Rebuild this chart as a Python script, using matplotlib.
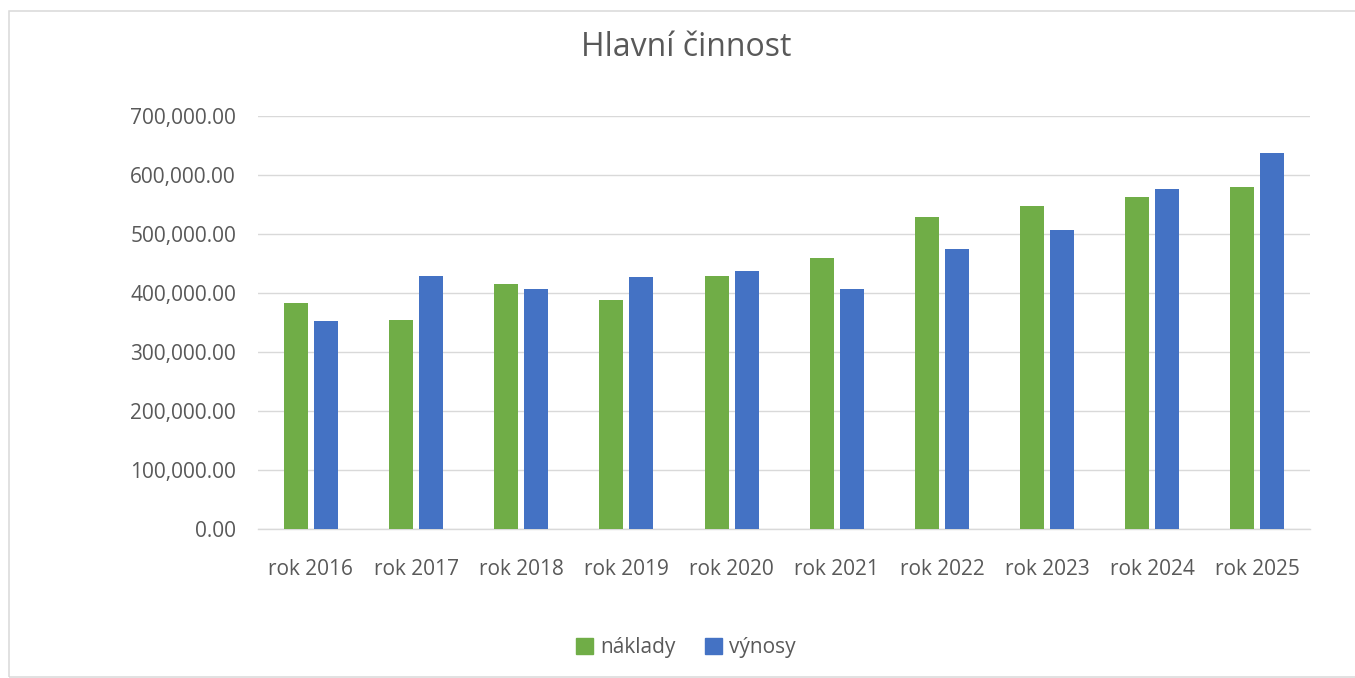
import matplotlib
matplotlib.use("Agg")
import matplotlib.pyplot as plt
import numpy as np
from matplotlib.patches import Rectangle

categories = ["rok 2016", "rok 2017", "rok 2018", "rok 2019", "rok 2020",
              "rok 2021", "rok 2022", "rok 2023", "rok 2024", "rok 2025"]
naklady = [382000, 353500, 414500, 387500, 428000, 458500, 528500, 547000, 562000, 579500]
vynosy = [351500, 428000, 406000, 426500, 436500, 406000, 474000, 506500, 576000, 637000]
yticks = [0, 100000, 200000, 300000, 400000, 500000, 600000, 700000]

W, H = 1355, 678
plt.rcParams['font.family'] = ['Open Sans', 'DejaVu Sans']
fig = plt.figure(figsize=(W / 100, H / 100), dpi=100)
fig.patch.set_facecolor('white')

# chart border
fig.add_artist(Rectangle((8.5 / W, 1 - 676.5 / H), (1360 - 8.5) / W, (676.5 - 10.5) / H,
                         transform=fig.transFigure, fill=False, edgecolor='#d9d9d9', linewidth=1.1))

left, right, top, bottom = 258.3, 1310, 115.7, 528.7
ax = fig.add_axes([left / W, 1 - bottom / H, (right - left) / W, (bottom - top) / H])

x = np.arange(len(categories))
bw = 0.228
green = '#70AD47'
blue = '#4472C4'
ax.bar(x - 0.143, naklady, width=bw, color=green, zorder=3, label='náklady')
ax.bar(x + 0.143, vynosy, width=bw, color=blue, zorder=3, label='výnosy')

ax.set_xlim(-0.5, len(categories) - 0.5)
ax.set_ylim(0, 700000)
ax.set_yticks(yticks)
ax.set_yticklabels([f"{v:,.2f}" for v in yticks])
ax.set_xticks(x)
ax.set_xticklabels(categories)
ax.yaxis.grid(True, color='#d9d9d9', linewidth=1.0, zorder=0)
ax.set_axisbelow(True)
for s in ['top', 'right', 'left']:
    ax.spines[s].set_visible(False)
ax.spines['bottom'].set_color('#d9d9d9')
ax.spines['bottom'].set_linewidth(1.0)
ax.tick_params(axis='both', length=0, colors='#595959', labelsize=15)
ax.tick_params(axis='y', pad=16)
ax.tick_params(axis='x', pad=22)

fig.text(686 / W, 1 - 48 / H, "Hlavní činnost", ha='center', va='center',
         fontsize=23, color='#595959')

handles = [Rectangle((0, 0), 1, 1, color=green), Rectangle((0, 0), 1, 1, color=blue)]
fig.legend(handles, ['náklady', 'výnosy'], loc='center', bbox_to_anchor=(686 / W, 1 - 648 / H),
           ncol=2, frameon=False, fontsize=15, labelcolor='#595959',
           handlelength=0.8, handleheight=0.8, handletextpad=0.35, columnspacing=1.4)

fig.savefig('out.png', dpi=100, facecolor='white')
